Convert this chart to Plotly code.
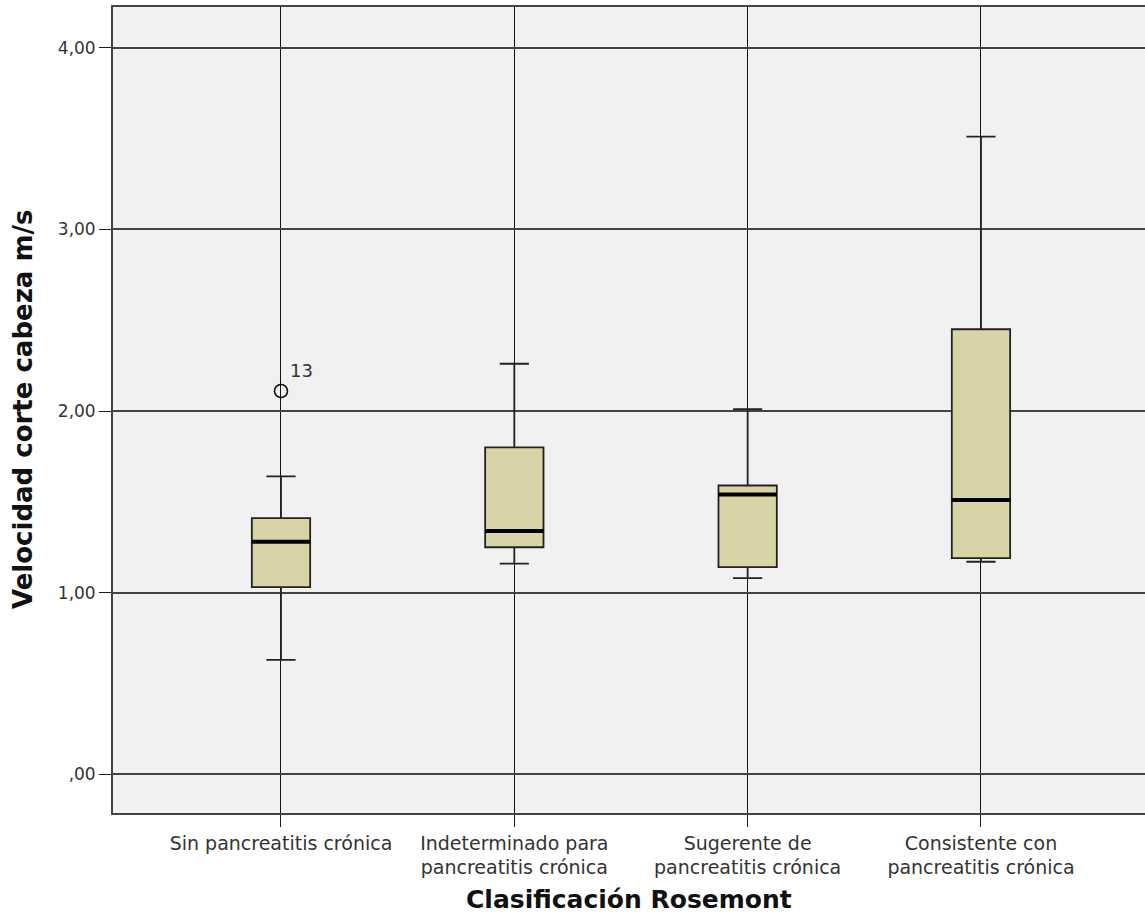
import plotly.graph_objects as go

categories = ["Sin pancreatitis crónica",
              "Indeterminado para<br>pancreatitis crónica",
              "Sugerente de<br>pancreatitis crónica",
              "Consistente con<br>pancreatitis crónica"]
lower_whisker = [0.63, 1.16, 1.08, 1.17]
q1 = [1.03, 1.25, 1.14, 1.19]
median = [1.28, 1.34, 1.54, 1.51]
q3 = [1.41, 1.80, 1.59, 2.45]
upper_whisker = [1.64, 2.26, 2.01, 3.51]
outlier_group = [0]
outlier_value = [2.11]
outlier_label = ["13"]
y_ticks = [0, 1, 2, 3, 4]
y_ticktext = [",00", "1,00", "2,00", "3,00", "4,00"]

BOX_W = 0.25
FONT = "DejaVu Sans"
pos = list(range(len(categories)))

fig = go.Figure()
for i in pos:
    fig.add_trace(go.Box(
        x=[i], q1=[q1[i]], median=[median[i]], q3=[q3[i]],
        lowerfence=[lower_whisker[i]], upperfence=[upper_whisker[i]],
        width=BOX_W, whiskerwidth=0.5, boxpoints=False,
        fillcolor="#d9d4a6", line=dict(color="#222222", width=1.8),
        showlegend=False, hoverinfo="skip"))

# thick median bars
mx, my = [], []
for i in pos:
    mx += [i - BOX_W / 2, i + BOX_W / 2, None]
    my += [median[i], median[i], None]
fig.add_trace(go.Scatter(x=mx, y=my, mode="lines",
                         line=dict(color="#000000", width=4),
                         showlegend=False, hoverinfo="skip"))

# outliers
fig.add_trace(go.Scatter(x=outlier_group, y=outlier_value, mode="markers",
                         marker=dict(symbol="circle-open", size=13,
                                     color="#111", line=dict(width=1.6)),
                         showlegend=False, hoverinfo="skip"))
for g, v, t in zip(outlier_group, outlier_value, outlier_label):
    fig.add_annotation(x=g, y=v, text=t, showarrow=False, xanchor="left",
                       yanchor="middle", xshift=7, yshift=21,
                       font=dict(family=FONT, size=18, color="#333"))

fig.add_annotation(xref="paper", yref="paper", x=0, y=0.5, xshift=-90,
                   text="<b>Velocidad corte cabeza m/s</b>", textangle=-90,
                   showarrow=False, xanchor="center", yanchor="middle",
                   font=dict(family=FONT, size=26, color="#111"))
fig.add_annotation(xref="paper", yref="paper", x=0.5, y=0,
                   yshift=-86, text="<b>Clasificación Rosemont</b>",
                   showarrow=False, xanchor="center", yanchor="middle",
                   font=dict(family=FONT, size=25, color="#111"))

fig.update_layout(
    width=1145, height=917,
    margin=dict(l=113, r=0, t=7, b=104),
    paper_bgcolor="white", plot_bgcolor="#f1f1f1",
    font=dict(family=FONT, size=18, color="#333"),
)
fig.update_xaxes(
    range=[-0.72, 3.703], tickmode="array", tickvals=pos, ticktext=categories,
    showgrid=True, gridcolor="#111111", gridwidth=1.3,
    showline=True, linecolor="#444", linewidth=1.8, mirror=True,
    ticks="outside", ticklen=12, tickcolor="#1e1e1e", tickwidth=1.3,
    zeroline=False, tickfont=dict(size=19, color="#333"),
)
fig.update_yaxes(
    range=[-0.213, 4.224], tickmode="array", tickvals=y_ticks,
    ticktext=y_ticktext,
    showgrid=True, gridcolor="#444444", gridwidth=1.6,
    showline=True, linecolor="#444", linewidth=1.8,
    ticks="outside", ticklen=12, tickcolor="#1e1e1e", tickwidth=1.3,
    zeroline=False, tickfont=dict(size=17, color="#333"),
)

fig.write_html("out.html", config={"displayModeBar": False},
               post_script="document.body.style.margin='0';")
